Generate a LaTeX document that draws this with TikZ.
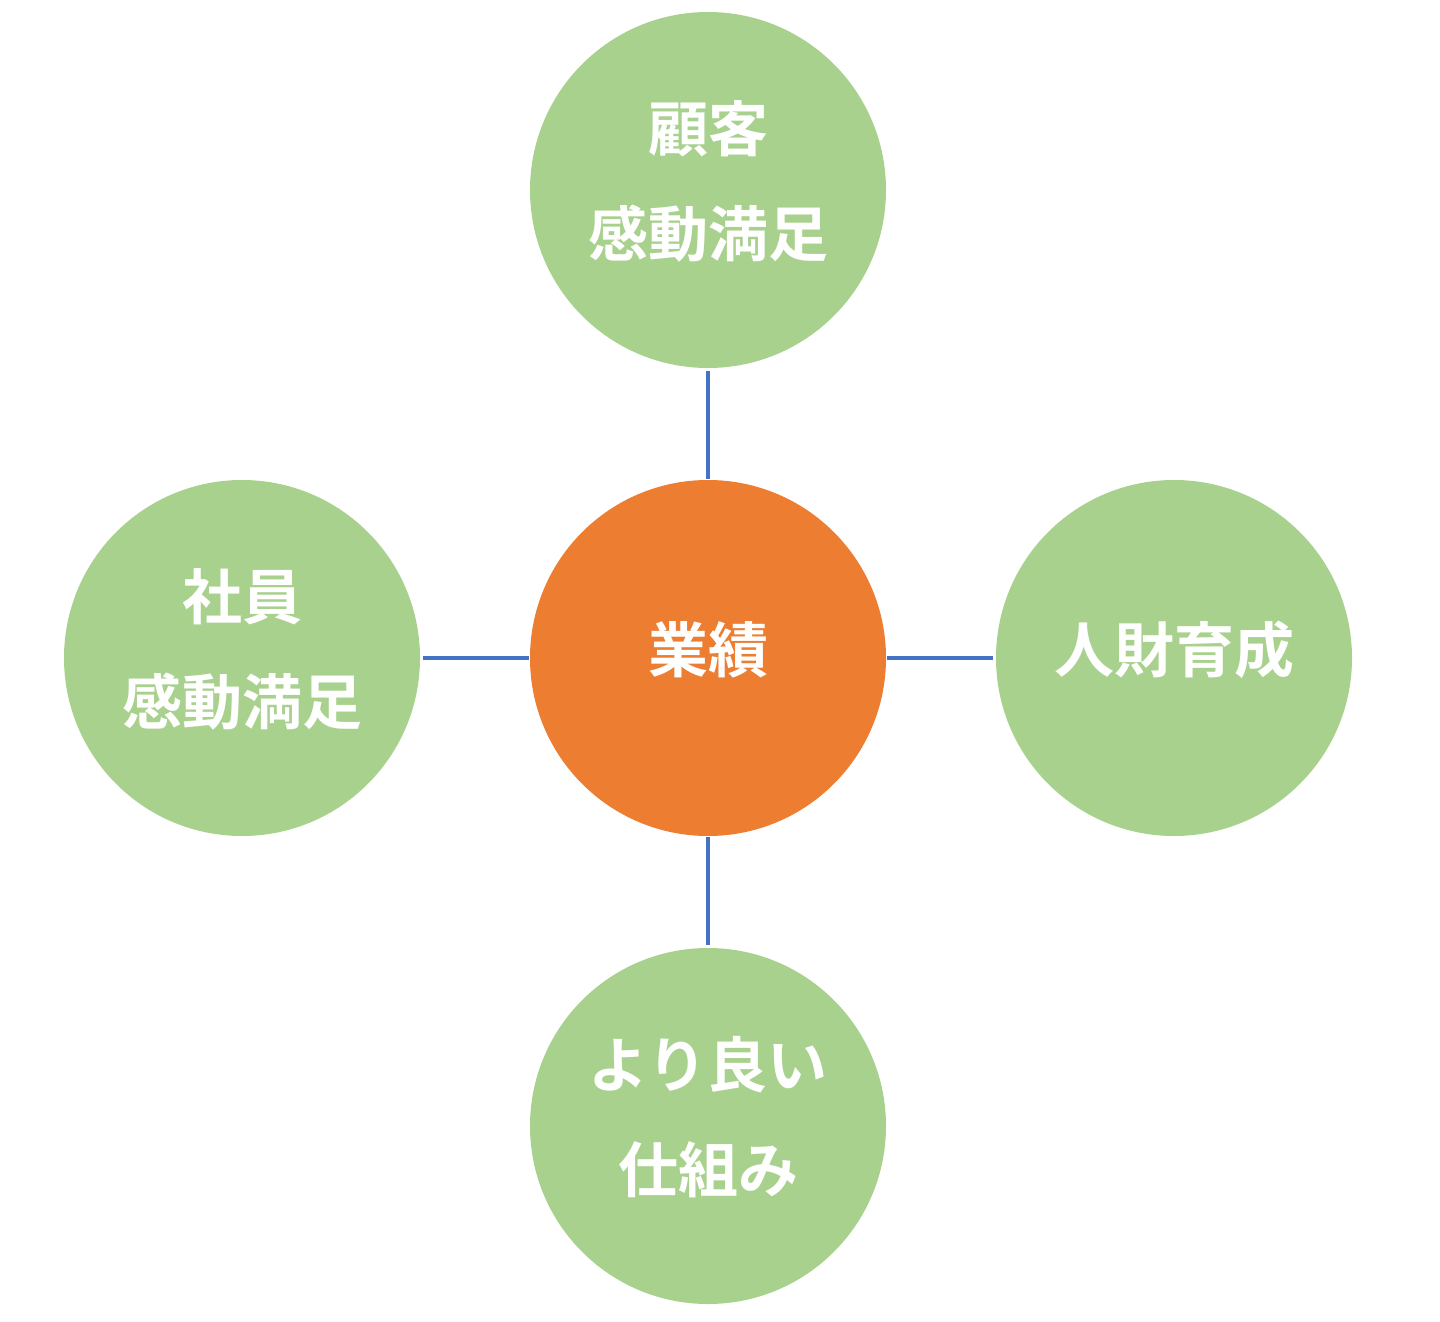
\documentclass[tikz,border=0pt]{standalone}
\usepackage{fontspec}
\newfontfamily\cjk{Noto Sans CJK JP Bold}
\definecolor{leaf}{HTML}{A9D18E}
\definecolor{core}{HTML}{ED7D31}
\definecolor{link}{HTML}{4472C4}
\newcommand{\lifted}[1]{\raisebox{7pt}[\height][\depth]{\begin{tabular}{@{}c@{}}#1\end{tabular}}}
\begin{document}
\begin{tikzpicture}[x=1pt,y=-1pt,
  bubble/.style={circle,fill=leaf,draw=none,minimum size=356pt,inner sep=0pt,
    text=white,align=center,font=\cjk\fontsize{60}{105}\selectfont},
  hub/.style={bubble,fill=core},
  joint/.style={draw=link,line width=3.4pt,shorten <=3pt,shorten >=1pt}]
\useasboundingbox (0,0) rectangle (1440,1322);
\node[hub] (c) at (708,658) {\lifted{業績}};
\node[bubble] (t) at (708,190) {\lifted{顧客\\感動満足}};
\node[bubble] (l) at (242,658) {\lifted{社員\\感動満足}};
\node[bubble] (r) at (1174,658) {\lifted{人財育成}};
\node[bubble] (b) at (708,1126) {\lifted{より良い\\仕組み}};
\draw[joint] (t) -- (c);
\draw[joint] (l) -- (c);
\draw[joint] (r) -- (c);
\draw[joint] (b) -- (c);
\end{tikzpicture}
\end{document}
